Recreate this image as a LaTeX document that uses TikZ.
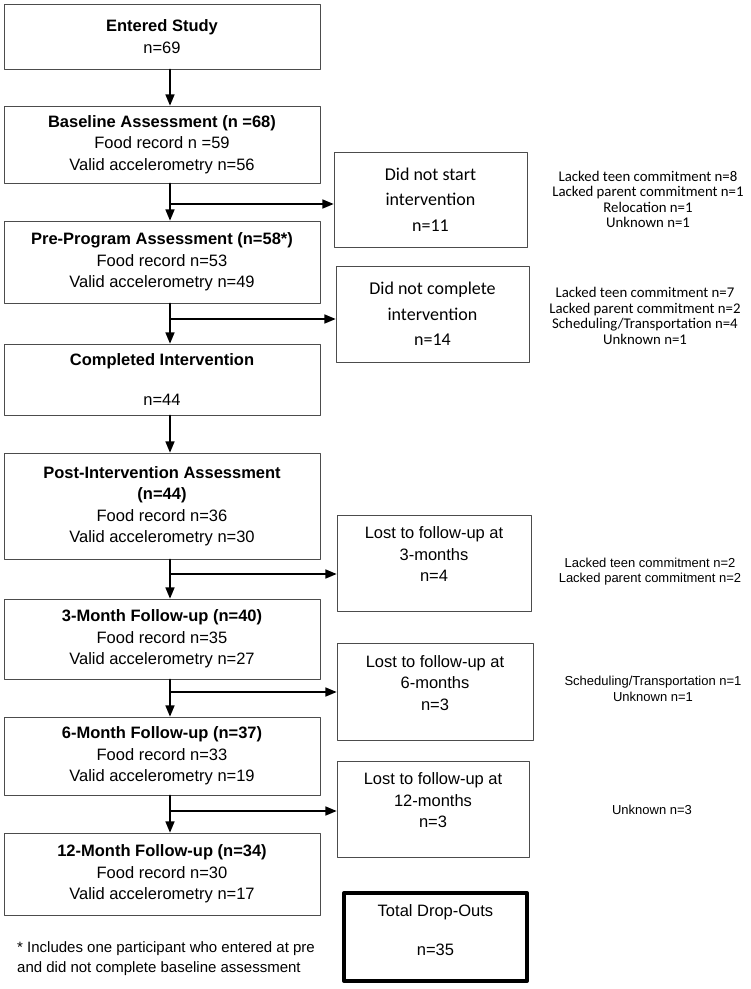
\documentclass[tikz,border=0pt]{standalone}
\usepackage{fontspec}
\setmainfont{Liberation Sans}
\newfontfamily\calibri{Carlito}
\usetikzlibrary{arrows}

\begin{document}
\begin{tikzpicture}[line cap=round,line join=round,>=triangle 45,x=1pt,y=-1pt,
  box/.style={draw=black!70,line width=0.9pt,align=center,inner sep=0pt,font=\fontsize{16.5}{21.5}\selectfont},
  leftbox/.style={box,minimum width=316pt},
  sidebox/.style={box,minimum width=194pt,minimum height=96pt},
  calbox/.style={sidebox,font=\calibri\fontsize{18}{25.5}\selectfont},
  note/.style={align=center,inner sep=0pt,font=\fontsize{13}{15.5}\selectfont},
  cnote/.style={align=center,inner sep=0pt,font=\calibri\fontsize{14.8}{15.5}\selectfont},
  flow/.style={->,line width=1.6pt}]
\useasboundingbox (0,0) rectangle (751,989);
\node[leftbox,minimum height=65pt] (entered) at (162,36.5) {\textbf{Entered Study}\\n=69};
\node[leftbox,minimum height=77pt] (baseline) at (162,144.5) {\textbf{Baseline Assessment (n =68)}\\Food record n =59\\Valid accelerometry n=56};
\node[leftbox,minimum height=82pt] (preprog) at (162,262) {\textbf{Pre-Program Assessment (n=58*)}\\Food record n=53\\Valid accelerometry n=49};
\node[leftbox,minimum height=71pt] (completed) at (162,379.5) {\textbf{Completed Intervention}\\[18pt]n=44};
\node[leftbox,minimum height=106pt] (post) at (162,506) {\textbf{Post-Intervention Assessment}\\\textbf{(n=44)}\\Food record n=36\\Valid accelerometry n=30};
\node[leftbox,minimum height=80pt] (month3) at (162,639) {\textbf{3-Month Follow-up (n=40)}\\Food record n=35\\Valid accelerometry n=27};
\node[leftbox,minimum height=78pt] (month6) at (162,756) {\textbf{6-Month Follow-up (n=37)}\\Food record n=33\\Valid accelerometry n=19};
\node[leftbox,minimum height=82pt] (month12) at (162,874) {\textbf{12-Month Follow-up (n=34)}\\Food record n=30\\Valid accelerometry n=17};
\node[calbox,minimum width=193pt,minimum height=95pt] (nostart) at (430.5,199.5) {Did not start\\intervention\\n=11};
\node[calbox,minimum width=193pt] (nocomplete) at (432.5,314) {Did not complete\\intervention\\n=14};
\node[sidebox] (lost3) at (434,563) {Lost to follow-up at\\3-months\\n=4\\[-10pt]\strut};
\node[sidebox,minimum width=196pt,minimum height=97pt] (lost6) at (435,691.5) {Lost to follow-up at\\6-months\\n=3\\[-10pt]\strut};
\node[sidebox,minimum width=192pt] (lost12) at (433,809) {Lost to follow-up at\\12-months\\n=3\\[-10pt]\strut};
\node[box,draw=black,line width=4pt,minimum width=183pt,minimum height=88pt] (total) at (435.5,937) {Total Drop-Outs\\[18pt]n=35\\[-14pt]\strut};
\node[cnote] (why1) at (648,199.5) {Lacked teen commitment n=8\\Lacked parent commitment n=1\\Relocation n=1\\Unknown n=1};
\node[cnote] (why2) at (645,316) {Lacked teen commitment n=7\\Lacked parent commitment n=2\\Scheduling/Transportation n=4\\Unknown n=1};
\node[note] (why3) at (650,571.5) {Lacked teen commitment n=2\\Lacked parent commitment n=2};
\node[note] (why4) at (653,689) {Scheduling/Transportation n=1\\Unknown n=1};
\node[note] (why5) at (652,810) {Unknown n=3};
\node[align=left,anchor=west,inner sep=0pt,font=\fontsize{15}{20}\selectfont] (star) at (17,959) {* Includes one participant who entered at pre\\and did not complete baseline assessment};
\foreach \a/\b in {entered/baseline,baseline/preprog,preprog/completed,completed/post,post/month3,month3/month6,month6/month12}
  \draw[flow] ([xshift=8pt]\a.south) -- ([xshift=8pt]\b.north);
\foreach \y/\t in {204/nostart,319/nocomplete,574/lost3,692/lost6,811/lost12}{
  \coordinate (s\t) at (170,\y);
  \draw[flow] (s\t) -- (s\t -| \t.west);
}
\end{tikzpicture}
\end{document}
